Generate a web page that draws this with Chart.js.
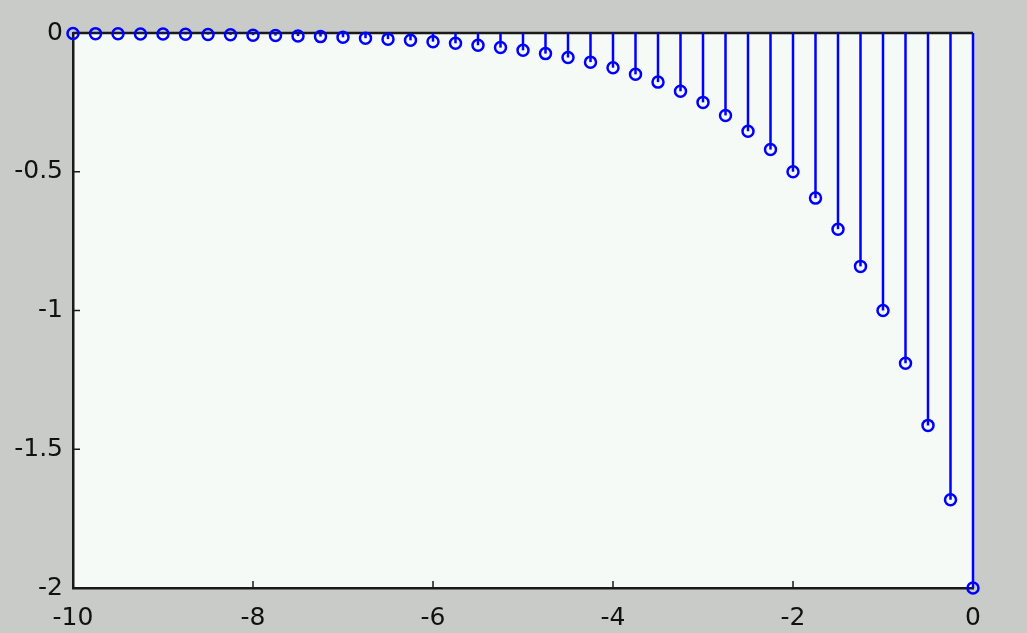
<!DOCTYPE html>
<html>
<head>
<meta charset="utf-8">
<script src="https://cdn.jsdelivr.net/npm/chart.js@4/dist/chart.umd.min.js"></script>
<style>
  html, body { margin: 0; padding: 0; background: #c8cbc8; }
  #wrap { width: 1027px; height: 633px; }
</style>
</head>
<body>
<div id="wrap"><canvas id="stem"></canvas></div>
<script>
// stem plot: x from -10 to 0, step 0.25
const xs = [-10, -9.75, -9.5, -9.25, -9, -8.75, -8.5, -8.25, -8, -7.75, -7.5, -7.25, -7,
  -6.75, -6.5, -6.25, -6, -5.75, -5.5, -5.25, -5, -4.75, -4.5, -4.25, -4, -3.75, -3.5,
  -3.25, -3, -2.75, -2.5, -2.25, -2, -1.75, -1.5, -1.25, -1, -0.75, -0.5, -0.25, 0];
const ys = [-0.002, -0.0023, -0.0028, -0.0033, -0.0039, -0.0046, -0.0055, -0.0066, -0.0078,
  -0.0093, -0.011, -0.013, -0.0156, -0.0186, -0.0221, -0.0263, -0.0313, -0.0372, -0.0442,
  -0.0526, -0.0625, -0.0743, -0.0884, -0.105, -0.125, -0.149, -0.177, -0.21, -0.25, -0.297,
  -0.354, -0.42, -0.5, -0.595, -0.707, -0.841, -1, -1.19, -1.414, -1.682, -2];
const xTicks = [-10, -8, -6, -4, -2, 0];
const yTicks = [0, -0.5, -1, -1.5, -2];

const stemColor = '#0000ff';
const axisColor = '#1a1a1a';

// plot background, zero baseline, stems and inward tick marks
const stemPlugin = {
  id: 'stems',
  beforeDraw(chart) {
    const { ctx, chartArea: a } = chart;
    ctx.save();
    ctx.fillStyle = '#f5faf6';
    ctx.fillRect(a.left, a.top, a.right - a.left, a.bottom - a.top);
    ctx.restore();
  },
  beforeDatasetsDraw(chart) {
    const { ctx, scales: { x, y } } = chart;
    ctx.save();
    // inward ticks
    ctx.strokeStyle = axisColor;
    ctx.lineWidth = 1.5;
    xTicks.forEach((t) => {
      const px = x.getPixelForValue(t);
      ctx.beginPath();
      ctx.moveTo(px, y.bottom);
      ctx.lineTo(px, y.bottom - 7);
      ctx.stroke();
    });
    yTicks.forEach((t) => {
      const py = y.getPixelForValue(t);
      ctx.beginPath();
      ctx.moveTo(x.left, py);
      ctx.lineTo(x.left + 7, py);
      ctx.stroke();
    });
    // baseline at y = 0
    const y0 = y.getPixelForValue(0);
    ctx.lineWidth = 2.5;
    ctx.beginPath();
    ctx.moveTo(x.getPixelForValue(xs[0]), y0);
    ctx.lineTo(x.getPixelForValue(xs[xs.length - 1]), y0);
    ctx.stroke();
    // stems
    ctx.strokeStyle = stemColor;
    ctx.lineWidth = 2.5;
    xs.forEach((v, i) => {
      const px = x.getPixelForValue(v);
      ctx.beginPath();
      ctx.moveTo(px, y0);
      ctx.lineTo(px, y.getPixelForValue(ys[i]));
      ctx.stroke();
    });
    ctx.restore();
  }
};

const tickFont = { family: 'DejaVu Sans', size: 25 };

new Chart(document.getElementById('stem'), {
  type: 'scatter',
  data: {
    datasets: [{
      data: xs.map((v, i) => ({ x: v, y: ys[i] })),
      showLine: false,
      pointStyle: 'circle',
      pointRadius: 5.5,
      pointBorderWidth: 2.5,
      pointBorderColor: stemColor,
      pointBackgroundColor: 'rgba(0,0,0,0)',
      clip: false
    }]
  },
  options: {
    responsive: true,
    maintainAspectRatio: false,
    animation: false,
    events: [],
    layout: { padding: { left: 0, top: 33, right: 54, bottom: 0 } },
    plugins: { legend: { display: false }, tooltip: { enabled: false } },
    scales: {
      x: {
        type: 'linear',
        min: -10,
        max: 0,
        afterFit: (s) => { s.height = 45; },
        afterBuildTicks: (s) => { s.ticks = xTicks.map((v) => ({ value: v })); },
        grid: { drawOnChartArea: false, drawTicks: false },
        border: { color: axisColor, width: 2.5 },
        ticks: { color: '#111', font: tickFont, padding: 15, maxRotation: 0, callback: (v) => String(v) }
      },
      y: {
        min: -2,
        max: 0,
        afterFit: (s) => { s.width = 73; },
        afterBuildTicks: (s) => { s.ticks = yTicks.map((v) => ({ value: v })); },
        grid: { drawOnChartArea: false, drawTicks: false },
        border: { color: axisColor, width: 2.5 },
        ticks: { color: '#111', font: tickFont, padding: 10, callback: (v) => String(v) }
      }
    }
  },
  plugins: [stemPlugin]
});
</script>
</body>
</html>
